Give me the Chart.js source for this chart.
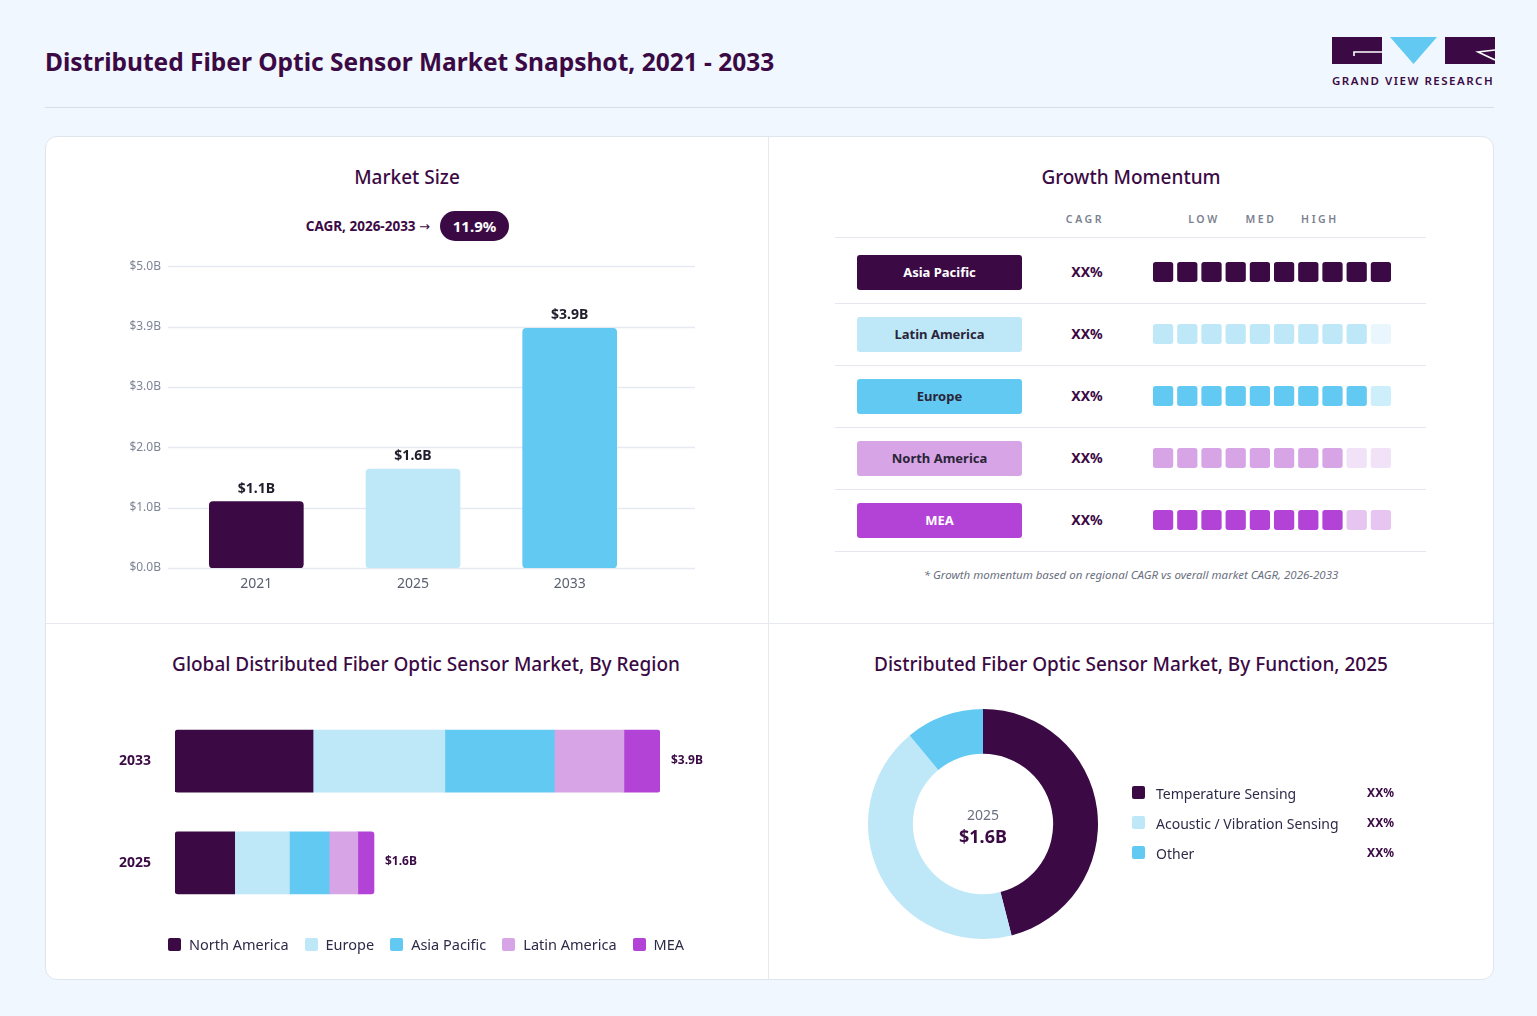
<!DOCTYPE html>
<html>
<head>
<meta charset="utf-8">
<script src="https://cdn.jsdelivr.net/npm/chart.js@4.4.0/dist/chart.umd.min.js"></script>
<style>
  body { margin: 0; width: 1537px; height: 1016px; background: #f0f7fe; font-family: "Noto Sans", sans-serif; position: relative; overflow: hidden; color: #3b0a45; }
  .abs { position: absolute; }
  .title { left: 45px; top: 45px; font-size: 24.5px; font-weight: 700; line-height: 34px; white-space: nowrap; }
  .rule { left: 45px; top: 107px; width: 1449px; height: 1px; background: #d8dfe8; }
  .card { left: 45px; top: 136px; width: 1447px; height: 842px; background: #fff; border: 1px solid #dfe5ee; border-radius: 12px; }
  .panelTitle { font-size: 19px; font-weight: 500; text-align: center; line-height: 28px; white-space: nowrap; }
  .line { background: #e5e7ef; height: 1px; }
  .hdr { font-size: 10.5px; font-weight: 600; letter-spacing: 2.6px; color: #7a8190; line-height: 14px; transform: translateX(-50%); }
  .pill { left: 857px; width: 165px; height: 35px; border-radius: 3px; font-size: 13px; font-weight: 700; text-align: center; line-height: 35px; }
  .cagrTxt { font-size: 14px; font-weight: 700; line-height: 20px; transform: translateX(-50%); }
  .legItem { display: inline-flex; align-items: center; margin-left: 16px; font-size: 14.5px; color: #2e2a48; }
  .legItem:first-child { margin-left: 0; }
  .legBox { width: 13px; height: 13px; border-radius: 2px; margin-right: 8px; }
</style>
</head>
<body>
<div class="abs title">Distributed Fiber Optic Sensor Market Snapshot, 2021 - 2033</div>
<svg class="abs" style="left:1332px;top:37px" width="163" height="28" viewBox="0 0 163 28">
  <rect x="0" y="0" width="50" height="27" fill="#3b0a45"/>
  <polyline points="22,19 22,15 50,15" fill="none" stroke="#fff" stroke-width="1.6"/>
  <polygon points="58,0 105,0 81.5,27" fill="#62c9f2"/>
  <rect x="113" y="0" width="50" height="27" fill="#3b0a45"/>
  <polyline points="163,13 146,15 163,23" fill="none" stroke="#fff" stroke-width="1.6"/>
</svg>
<div class="abs" style="left:1332px;top:73px;font-size:11.5px;font-weight:600;letter-spacing:1.5px;line-height:16px;white-space:nowrap;">GRAND VIEW RESEARCH</div>
<div class="abs rule"></div>
<div class="abs card"></div>
<div class="abs" style="left:768px;top:137px;width:1px;height:842px;background:#e6e9f0"></div>
<div class="abs" style="left:46px;top:623px;width:1447px;height:1px;background:#e6e9f0"></div>

<!-- market size -->
<div class="abs panelTitle" style="left:207px;width:400px;top:163px">Market Size</div>
<div class="abs" style="left:230px;width:200px;top:216px;text-align:right;font-size:13.5px;font-weight:700;line-height:20px">CAGR, 2026-2033 <span style="font-family:'DejaVu Sans';font-weight:400;font-size:13px">&rarr;</span></div>
<div class="abs" style="left:440px;top:211px;width:69px;height:30px;border-radius:15px;background:#3b0a45;color:#fff;font-size:15px;font-weight:700;text-align:center;line-height:30px">11.9%</div>
<canvas id="marketChart" class="abs" style="left:100px;top:242px" width="620" height="358"></canvas>

<!-- growth momentum -->
<div class="abs panelTitle" style="left:931px;width:400px;top:163px">Growth Momentum</div>
<div class="abs hdr" style="left:1085px;top:212px">CAGR</div>
<div class="abs hdr" style="left:1204px;top:212px">LOW</div>
<div class="abs hdr" style="left:1261px;top:212px">MED</div>
<div class="abs hdr" style="left:1320px;top:212px">HIGH</div>
<div id="momentumRows"></div>
<canvas id="momentumChart" class="abs" style="left:1151px;top:241px" width="242" height="310"></canvas>
<div class="abs" style="left:831px;width:600px;top:566px;text-align:center;font-size:11.5px;font-style:italic;color:#6b7080;line-height:18px">* Growth momentum based on regional CAGR vs overall market CAGR, 2026-2033</div>

<!-- by region -->
<div class="abs panelTitle" style="left:126px;width:600px;top:650px">Global Distributed Fiber Optic Sensor Market, By Region</div>
<canvas id="regionChart" class="abs" style="left:100px;top:678px" width="640" height="268"></canvas>
<div id="regionLegend" class="abs" style="left:126px;width:600px;top:934px;text-align:center;line-height:20px;white-space:nowrap"></div>

<!-- by function -->
<div class="abs panelTitle" style="left:831px;width:600px;top:650px">Distributed Fiber Optic Sensor Market, By Function, 2025</div>
<canvas id="functionChart" class="abs" style="left:868px;top:709px" width="230" height="230"></canvas>
<div class="abs" style="left:933px;width:100px;top:806px;text-align:center;font-size:14px;color:#6b6f80;line-height:18px">2025</div>
<div class="abs" style="left:933px;width:100px;top:823px;text-align:center;font-size:18px;font-weight:700;line-height:26px">$1.6B</div>
<div id="functionLegend"></div>

<script>
// market size
const marketYears = ['2021', '2025', '2033'];
const marketValues = [1.1, 1.64, 3.97];
const marketLabels = ['$1.1B', '$1.6B', '$3.9B'];
const marketTickLabels = ['$0.0B', '$1.0B', '$2.0B', '$3.0B', '$3.9B', '$5.0B'];
const marketColors = ['#3b0a45', '#bee8f8', '#62c9f2'];

// growth momentum
const momentumRegions = ['Asia Pacific', 'Latin America', 'Europe', 'North America', 'MEA'];
const momentumCagr = ['XX%', 'XX%', 'XX%', 'XX%', 'XX%'];
const momentumFilled = [10, 9, 9, 8, 8];
const momentumColors = ['#3b0a45', '#bee8f8', '#62c9f2', '#d7a5e6', '#b343d6'];
const momentumFaded = ['#e2d6e6', '#e9f6fd', '#cdeefb', '#f1e2f7', '#e6c5f0'];
const momentumText = ['#fff', '#2a2438', '#2a2438', '#2a2438', '#fff'];

// by region
const regionYears = ['2033', '2025'];
const regionNames = ['North America', 'Europe', 'Asia Pacific', 'Latin America', 'MEA'];
const northAmericaValues = [1.11, 0.48];
const europeValues = [1.06, 0.44];
const asiaPacificValues = [0.88, 0.32];
const latinAmericaValues = [0.56, 0.23];
const meaValues = [0.29, 0.13];
const regionTotals = ['$3.9B', '$1.6B'];
const regionColors = ['#3b0a45', '#bee8f8', '#62c9f2', '#d7a5e6', '#b343d6'];

// by function
const functionNames = ['Temperature Sensing', 'Acoustic / Vibration Sensing', 'Other'];
const functionShares = [46, 43, 11];
const functionLabels = ['XX%', 'XX%', 'XX%'];
const functionColors = ['#3b0a45', '#bee8f8', '#62c9f2'];

Chart.defaults.font.family = "'Noto Sans', sans-serif";
Chart.defaults.animation = false;
Chart.defaults.plugins.legend.display = false;
Chart.defaults.plugins.tooltip.enabled = false;

function marketSize() {
    const gridPlugin = {
        id: 'wideGrid',
        beforeDatasetsDraw(chart) {
            const y = chart.scales.y;
            const ctx = chart.ctx;
            ctx.save();
            ctx.strokeStyle = '#e6e9f2';
            ctx.lineWidth = 1.5;
            y.ticks.forEach(t => {
                let py = Math.round(y.getPixelForValue(t.value)) + 0.5;
                ctx.beginPath();
                ctx.moveTo(68, py);
                ctx.lineTo(595, py);
                ctx.stroke();
            });
            ctx.restore();
        },
        afterDatasetsDraw(chart) {
            const ctx = chart.ctx;
            ctx.save();
            ctx.font = "bold 14px 'Noto Sans'";
            ctx.fillStyle = '#1f1d2b';
            ctx.textAlign = 'center';
            ctx.textBaseline = 'bottom';
            chart.getDatasetMeta(0).data.forEach((bar, i) => {
                ctx.fillText(marketLabels[i], bar.x, bar.y - 6);
            });
            ctx.restore();
        }
    };
    new Chart(document.getElementById('marketChart'), {
        type: 'bar',
        data: {
            labels: marketYears,
            datasets: [{
                data: marketValues,
                backgroundColor: marketColors,
                borderRadius: 4,
                borderSkipped: false,
                barThickness: 94,
            }],
        },
        options: {
            responsive: false,
            layout: { padding: { top: 0, right: 72, bottom: 0, left: 0 } },
            scales: {
                x: {
                    grid: { display: false, drawTicks: false },
                    border: { display: false },
                    ticks: { color: '#5a6070', font: { size: 14 }, padding: 8 },
                    afterFit(s) { s.height = 32; },
                },
                y: {
                    min: 0, max: 5,
                    grid: { display: false, drawTicks: false },
                    border: { display: false },
                    ticks: {
                        stepSize: 1,
                        color: '#7d8597',
                        font: { size: 12 },
                        padding: 17,
                        callback: (v) => marketTickLabels[v],
                    },
                    afterFit(s) { s.width = 78; },
                },
            },
        },
        plugins: [gridPlugin],
    });
}

function growthMomentum() {
    let rows = document.getElementById('momentumRows');
    let html = '<div class="abs line" style="left:835px;width:591px;top:237px"></div>';
    momentumRegions.forEach((r, i) => {
        let cy = 272 + i * 62;
        html += `<div class="abs pill" style="top:${cy - 17}px;background:${momentumColors[i]};color:${momentumText[i]}">${r}</div>`;
        html += `<div class="abs cagrTxt" style="left:1087px;top:${cy - 10}px">${momentumCagr[i]}</div>`;
        html += `<div class="abs line" style="left:835px;width:591px;top:${cy + 31}px"></div>`;
    });
    rows.innerHTML = html;

    let datasets = [];
    for (let pos = 0; pos < 10; pos++) {
        datasets.push({
            data: momentumRegions.map(() => 1),
            backgroundColor: momentumRegions.map((r, i) => pos < momentumFilled[i] ? momentumColors[i] : momentumFaded[i]),
            borderColor: '#ffffff',
            borderWidth: 2.3,
            borderRadius: { topLeft: 5, topRight: 5, bottomLeft: 5, bottomRight: 5 },
            borderSkipped: false,
            barThickness: 24,
        });
    }
    new Chart(document.getElementById('momentumChart'), {
        type: 'bar',
        data: { labels: momentumRegions, datasets: datasets },
        options: {
            responsive: false,
            indexAxis: 'y',
            layout: { padding: 0 },
            scales: {
                x: { stacked: true, min: 0, max: 10, display: false },
                y: { stacked: true, display: false },
            },
        },
    });
}

function byRegion() {
    const series = [northAmericaValues, europeValues, asiaPacificValues, latinAmericaValues, meaValues];
    const datasets = series.map((vals, i) => {
        let radius = 0;
        if (i === 0) radius = { topLeft: 3, bottomLeft: 3, topRight: 0, bottomRight: 0 };
        if (i === series.length - 1) radius = { topLeft: 0, bottomLeft: 0, topRight: 3, bottomRight: 3 };
        return {
            label: regionNames[i],
            data: vals,
            backgroundColor: regionColors[i],
            borderRadius: radius,
            borderSkipped: false,
            barThickness: 62,
        };
    });
    const totalsPlugin = {
        id: 'totals',
        afterDatasetsDraw(chart) {
            const ctx = chart.ctx;
            const last = chart.getDatasetMeta(series.length - 1);
            ctx.save();
            ctx.font = "bold 12px 'Noto Sans'";
            ctx.fillStyle = '#3b0a45';
            ctx.textAlign = 'left';
            ctx.textBaseline = 'middle';
            last.data.forEach((bar, i) => {
                ctx.fillText(regionTotals[i], bar.x + 11, bar.y - 1);
            });
            ctx.restore();
        }
    };
    new Chart(document.getElementById('regionChart'), {
        type: 'bar',
        data: { labels: regionYears, datasets: datasets },
        options: {
            responsive: false,
            indexAxis: 'y',
            layout: { padding: { top: 0, right: 80, bottom: 0, left: 0 } },
            scales: {
                x: { stacked: true, min: 0, max: 3.9, display: false },
                y: {
                    stacked: true,
                    grid: { display: false, drawTicks: false },
                    border: { display: false },
                    ticks: { color: '#3b0a45', font: { size: 14, weight: 'bold' }, padding: 24 },
                    afterFit(s) { s.width = 75; },
                },
            },
        },
        plugins: [totalsPlugin],
    });

    let leg = '';
    regionNames.forEach((n, i) => {
        leg += `<span class="legItem"><span class="legBox" style="background:${regionColors[i]}"></span>${n}</span>`;
    });
    document.getElementById('regionLegend').innerHTML = leg;
}

function byFunction() {
    new Chart(document.getElementById('functionChart'), {
        type: 'doughnut',
        data: {
            labels: functionNames,
            datasets: [{
                data: functionShares,
                backgroundColor: functionColors,
                borderWidth: 0,
            }],
        },
        options: {
            responsive: false,
            cutout: '61%',
            layout: { padding: 0 },
        },
    });
    let html = '';
    functionNames.forEach((n, i) => {
        let cy = 794 + i * 30;
        html += `<div class="abs" style="left:1132px;top:${cy - 8}px;width:13px;height:13px;border-radius:2px;background:${functionColors[i]}"></div>`;
        html += `<div class="abs" style="left:1156px;top:${cy - 10}px;font-size:14px;color:#2e2a48;line-height:20px;white-space:nowrap">${n}</div>`;
        html += `<div class="abs" style="left:1334px;width:60px;top:${cy - 10}px;text-align:right;font-size:12px;font-weight:700;color:#3b0a45;line-height:18px">${functionLabels[i]}</div>`;
    });
    document.getElementById('functionLegend').innerHTML = html;
}

marketSize();
growthMomentum();
byRegion();
byFunction();
</script>
</body>
</html>
